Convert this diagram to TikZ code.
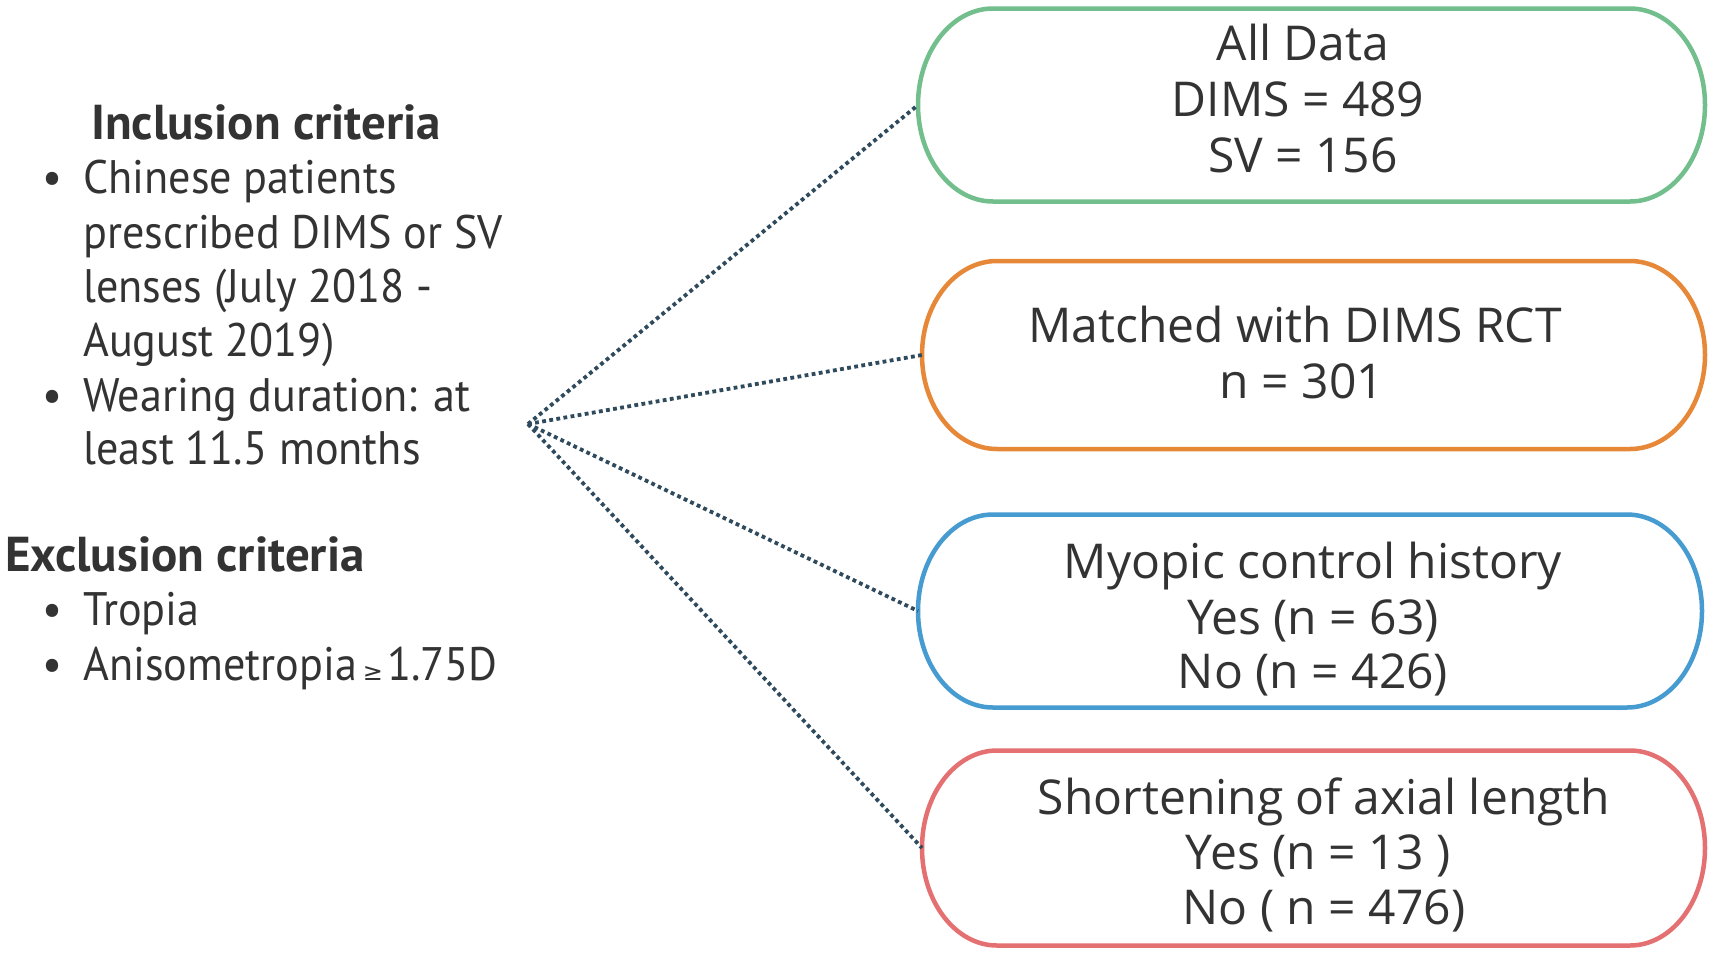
\documentclass[tikz,border=0pt]{standalone}
\usepackage{fontspec}
\setmainfont{Open Sans}
\newfontfamily\leftfont[FakeStretch=0.94]{PT Sans}
\newfontfamily\leftboldfont{PT Sans Bold}
\newfontfamily\symfont{DejaVu Sans}
\usetikzlibrary{calc}
\definecolor{txt}{HTML}{333333}
\definecolor{cgreen}{RGB}{114,190,140}
\definecolor{corange}{RGB}{230,136,56}
\definecolor{cblue}{RGB}{70,155,208}
\definecolor{cred}{RGB}{228,112,114}
\definecolor{cline}{RGB}{47,74,92}
\tikzset{
  boxarea/.style={inner sep=0pt, outer sep=0pt},
  boxtext/.style={font=\fontsize{48}{56}\selectfont, text=txt, anchor=base, inner sep=0pt},
  lefttext/.style={font=\leftfont\fontsize{47}{55}\selectfont, text=txt, anchor=base west, inner sep=0pt},
  leftbold/.style={font=\leftboldfont\fontsize{49}{55}\selectfont, text=txt, anchor=base west, inner sep=0pt},
  bulletmark/.style={font=\leftfont\fontsize{47}{55}\selectfont, text=txt, anchor=base, inner sep=0pt},
  connector/.style={cline, line width=3.8pt, dash pattern=on 3.8pt off 3.4pt},
  stadiumline/.style={line width=4.5pt}
}
\newcommand\stadium[2]{%
  \draw[stadiumline,#2] let \p1=(#1.north), \p2=(#1.south), \n1={(\y1-\y2)/2} in
    ([xshift=75pt]#1.north west) -- ([xshift=-75pt]#1.north east)
    arc[start angle=90,end angle=-90,x radius=75pt,y radius=\n1]
    -- ([xshift=75pt]#1.south west)
    arc[start angle=270,end angle=90,x radius=75pt,y radius=\n1] -- cycle;}
\begin{document}
\begin{tikzpicture}[x=1pt,y=1pt]
\useasboundingbox (0,0) rectangle (1713,-956);
\fill[white] (0,0) rectangle (1713,-956);

% boxes
\node[boxarea, minimum width=787pt, minimum height=193pt] (b1) at (1311.5,-105) {};
\node[boxarea, minimum width=783pt, minimum height=188pt] (b2) at (1313.5,-355) {};
\node[boxarea, minimum width=784pt, minimum height=193pt] (b3) at (1310,-611) {};
\node[boxarea, minimum width=783pt, minimum height=195pt] (b4) at (1313.5,-848) {};
\stadium{b1}{cgreen}
\stadium{b2}{corange}
\stadium{b3}{cblue}
\stadium{b4}{cred}

\node[boxtext] (b1a) at (1303,-60) {All Data};
\node[boxtext] (b1b) at (1298,-116) {DIMS = 489};
\node[boxtext] (b1c) at (1303,-172) {SV = 156};

\node[boxtext] (b2a) at (1295,-342) {Matched with DIMS RCT};
\node[boxtext] (b2b) at (1302,-398) {n = 301};

\node[boxtext] (b3a) at (1313,-578) {Myopic control history};
\node[boxtext] (b3b) at (1313,-634) {Yes (n = 63)};
\node[boxtext] (b3c) at (1313,-688) {No (n = 426)};

\node[boxtext] (b4a) at (1324,-814) {Shortening of axial length};
\node[boxtext] (b4b) at (1318,-869) {Yes (n = 13 )};
\node[boxtext] (b4c) at (1324,-924) {No ( n = 476)};

% left text
\node[leftbold] (inc) at (91,-139) {Inclusion criteria};
\node[bulletmark] (bu1) at (52,-193) {•};
\node[lefttext] (i1a) at (83,-193) {Chinese patients};
\node[lefttext] (i1b) at (83,-248) {prescribed DIMS or SV};
\node[lefttext] (i1c) at (83,-302) {lenses (July 2018 -};
\node[lefttext] (i1d) at (83,-356) {August 2019)};
\node[bulletmark] (bu2) at (52,-411) {•};
\node[lefttext] (i2a) at (83,-411) {Wearing duration: at};
\node[lefttext] (i2b) at (83,-464) {least 11.5 months};

\node[leftbold] (exc) at (5,-571) {Exclusion criteria};
\node[bulletmark] (bu3) at (52,-625) {•};
\node[lefttext] (e1) at (83,-625) {Tropia};
\node[bulletmark] (bu4) at (52,-680) {•};
\node[lefttext] (e2) at (83,-680) {Anisometropia\hspace{6pt}{\symfont\fontsize{24}{24}\selectfont ≥}\hspace{4pt}1.75D};

% connectors
\coordinate (hub) at (528,-424);
\draw[connector] (hub) -- (b1.west);
\draw[connector] (hub) -- (b2.west);
\draw[connector] (hub) -- (b3.west);
\draw[connector] (hub) -- (b4.west);
\end{tikzpicture}
\end{document}
